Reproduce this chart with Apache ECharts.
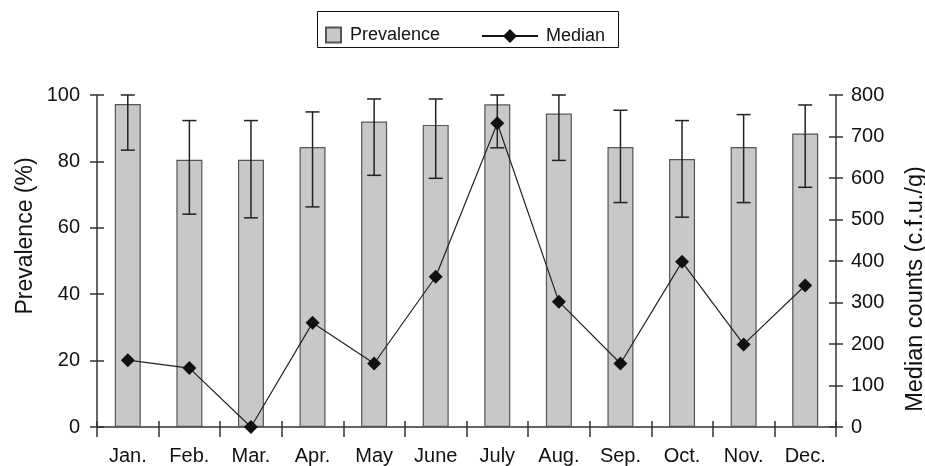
<!DOCTYPE html>
<html>
<head>
<meta charset="utf-8">
<script src="https://cdn.jsdelivr.net/npm/echarts@6/dist/echarts.min.js"></script>
<style>html,body{margin:0;padding:0;background:#fff}#c{width:925px;height:466px}</style>
</head>
<body>
<div id="c"></div>
<script>
const categories = ['Jan.', 'Feb.', 'Mar.', 'Apr.', 'May', 'June', 'July', 'Aug.', 'Sep.', 'Oct.', 'Nov.', 'Dec.'];
const prevalence = [97.3, 80.5, 80.5, 84.3, 92.0, 91.0, 97.2, 94.4, 84.3, 80.7, 84.3, 88.4];
const errLow = [83.4, 64.1, 63.0, 66.3, 75.8, 74.9, 84.1, 80.3, 67.6, 63.2, 67.6, 72.2];
const errHigh = [100, 92.3, 92.3, 94.9, 98.8, 98.8, 100, 100, 95.4, 92.3, 94.1, 97.0];
const median = [161, 142, 0, 251, 153, 362, 732, 302, 153, 398, 199, 341];
const leftTicks = [0, 100, 20];
const rightTicks = [0, 800, 100];

const FONT = 'Liberation Sans, Arial, sans-serif';
const errData = categories.map((c, i) => [i, errLow[i], errHigh[i]]);

const chart = echarts.init(document.getElementById('c'), null, {renderer: 'canvas'});
const axisCol = '#333';
const medianIcon = 'path://M0,6.1 L56,6.1 L56,7.9 L0,7.9 Z M28,0 L35,7 L28,14 L21,7 Z';
chart.setOption({
  animation: false,
  textStyle: {fontFamily: FONT},
  grid: {left: 97, right: 89, top: 95, bottom: 38, containLabel: false},
  legend: [
    {data: [{name: 'Prevalence', icon: 'rect'}], left: 320, top: 21, itemWidth: 15, itemHeight: 15, itemGap: 10,
     textStyle: {fontSize: 18, color: '#111', fontFamily: FONT, padding: [0, 0, 0, 4]}},
    {data: [{name: 'Median', icon: medianIcon}], left: 477, top: 22, itemWidth: 56, itemHeight: 14,
     textStyle: {fontSize: 18, color: '#111', fontFamily: FONT, padding: [0, 0, 0, 3]}}
  ],
  graphic: [
    {type: 'rect', shape: {x: 317.5, y: 11.5, width: 301, height: 36}, style: {fill: 'none', stroke: '#111', lineWidth: 1}},
    {type: 'text', x: 26, y: 236, rotation: Math.PI / 2,
     style: {text: 'Prevalence (%)', fontSize: 23, fill: '#111', fontFamily: FONT, align: 'center', verticalAlign: 'middle'}},
    {type: 'text', x: 916, y: 289, rotation: Math.PI / 2,
     style: {text: 'Median counts (c.f.u./g)', fontSize: 23.5, fill: '#111', fontFamily: FONT, align: 'center', verticalAlign: 'middle'}}
  ],
  xAxis: [
    {type: 'category', data: categories, position: 'bottom',
     axisLine: {lineStyle: {color: axisCol, width: 1.5}},
     axisTick: {show: true, inside: false, length: 10, lineStyle: {color: axisCol, width: 1.5}},
     axisLabel: {fontSize: 20, color: '#111', margin: 19, fontFamily: FONT},
     splitLine: {show: false}},
    {type: 'category', data: categories, position: 'bottom',
     axisLine: {show: false},
     axisTick: {show: true, inside: true, length: 6, lineStyle: {color: axisCol, width: 1.5}},
     axisLabel: {show: false}, splitLine: {show: false}}
  ],
  yAxis: [
    {type: 'value', position: 'left', min: leftTicks[0], max: leftTicks[1], interval: leftTicks[2],
     axisLine: {show: true, lineStyle: {color: axisCol, width: 1.5}},
     axisTick: {show: true, inside: false, length: 7, lineStyle: {color: axisCol, width: 1.5}},
     axisLabel: {fontSize: 20, color: '#111', margin: 17, fontFamily: FONT},
     splitLine: {show: false}},
    {type: 'value', position: 'right', min: rightTicks[0], max: rightTicks[1], interval: rightTicks[2],
     axisLine: {show: true, lineStyle: {color: axisCol, width: 1.5}},
     axisTick: {show: true, inside: false, length: 7, lineStyle: {color: axisCol, width: 1.5}},
     axisLabel: {fontSize: 20, color: '#111', margin: 15, fontFamily: FONT},
     splitLine: {show: false}},
    {type: 'value', position: 'left', min: leftTicks[0], max: leftTicks[1], interval: leftTicks[2],
     axisLine: {show: false},
     axisTick: {show: true, inside: true, length: 7, lineStyle: {color: axisCol, width: 1.5}},
     axisLabel: {show: false}, splitLine: {show: false}},
    {type: 'value', position: 'right', min: rightTicks[0], max: rightTicks[1], interval: rightTicks[2],
     axisLine: {show: false},
     axisTick: {show: true, inside: true, length: 7, lineStyle: {color: axisCol, width: 1.5}},
     axisLabel: {show: false}, splitLine: {show: false}}
  ],
  series: [
    {name: 'Prevalence', type: 'bar', data: prevalence, xAxisIndex: 0, yAxisIndex: 0, barWidth: 26,
     itemStyle: {color: '#c8c8ca', borderColor: '#555', borderWidth: 1.2}, z: 2},
    {name: 'err', type: 'custom', data: errData, xAxisIndex: 0, yAxisIndex: 0, z: 3,
     renderItem: function (params, api) {
       const lo = api.coord([api.value(0), api.value(1)]);
       const hi = api.coord([api.value(0), api.value(2)]);
       const hw = 7;
       const st = {stroke: '#222', lineWidth: 1.5};
       return {type: 'group', children: [
         {type: 'line', shape: {x1: lo[0], y1: lo[1], x2: hi[0], y2: hi[1]}, style: st},
         {type: 'line', shape: {x1: hi[0] - hw, y1: hi[1], x2: hi[0] + hw, y2: hi[1]}, style: st},
         {type: 'line', shape: {x1: lo[0] - hw, y1: lo[1], x2: lo[0] + hw, y2: lo[1]}, style: st}
       ]};
     }},
    {name: 'Median', type: 'line', data: median, xAxisIndex: 0, yAxisIndex: 1, z: 5,
     symbol: 'diamond', symbolSize: 14,
     itemStyle: {color: '#111'}, lineStyle: {color: '#222', width: 1.2}}
  ]
});
</script>
</body>
</html>
